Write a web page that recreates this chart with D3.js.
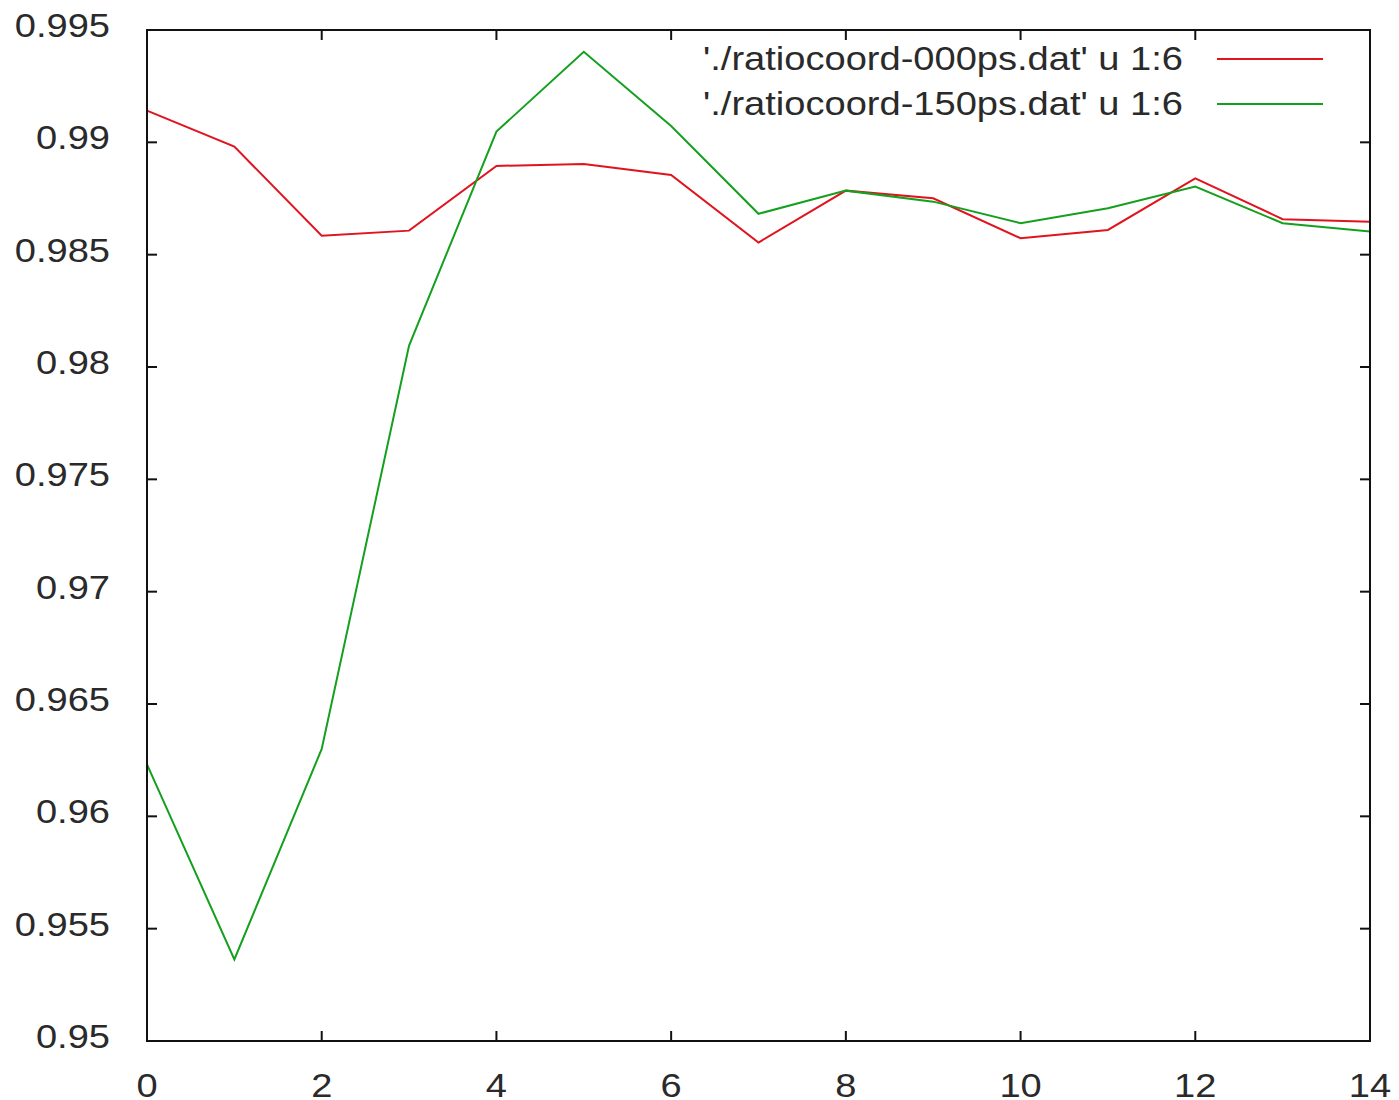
<!DOCTYPE html>
<html>
<head>
<meta charset="utf-8">
<script src="https://cdn.jsdelivr.net/npm/d3@7"></script>
<style>
  body { margin: 0; background: #fff; }
  text { font-family: "Liberation Sans", Arial, sans-serif; fill: #2a2a2a; }
</style>
</head>
<body>
<div id="chart"></div>
<script>
// data (column 1 vs column 6)
var xs = [0, 1, 2, 3, 4, 5, 6, 7, 8, 9, 10, 11, 12, 13, 14];
var ratio000 = [0.99141, 0.98981, 0.98584, 0.98607, 0.98895, 0.98904, 0.98855, 0.98554, 0.98785, 0.98751, 0.98573, 0.98610, 0.98840, 0.98658, 0.98647];
var ratio150 = [0.96231, 0.95363, 0.96300, 0.98095, 0.99048, 0.99403, 0.99073, 0.98682, 0.98785, 0.98736, 0.98640, 0.98707, 0.98803, 0.98640, 0.98603];
var xTicks = [0, 2, 4, 6, 8, 10, 12, 14];
var yTicks = [0.95, 0.955, 0.96, 0.965, 0.97, 0.975, 0.98, 0.985, 0.99, 0.995];
var seriesNames = ["'./ratiocoord-000ps.dat' u 1:6", "'./ratiocoord-150ps.dat' u 1:6"];
var seriesColors = ["#e0141e", "#14a01e"];

(function() {
  var width = 1399, height = 1100;
  var pLeft = 147, pRight = 1370, pTop = 30, pBottom = 1041;
  var stretch = 1.12, fs = "34px";

  var svg = d3.select("#chart").append("svg")
      .attr("width", width)
      .attr("height", height);

  var x = d3.scaleLinear().domain([0, 14]).range([pLeft, pRight]);
  var y = d3.scaleLinear().domain([0.95, 0.995]).range([pBottom, pTop]);

  // text a bit wider than the font, like the original bitmap
  function label(px, py, str, anchor) {
    svg.append("g")
      .attr("transform", "translate(" + px + "," + py + ")scale(" + stretch + ",1)")
    .append("text")
      .attr("text-anchor", anchor)
      .style("font-size", fs)
      .text(str);
  }

  // tick marks on all four sides, pointing inward
  var tickLen = 10;
  var g = svg.append("g").attr("stroke", "#111").attr("stroke-width", 2);
  xTicks.forEach(function(t) {
    g.append("line").attr("x1", x(t)).attr("x2", x(t)).attr("y1", pBottom).attr("y2", pBottom - tickLen);
    g.append("line").attr("x1", x(t)).attr("x2", x(t)).attr("y1", pTop).attr("y2", pTop + tickLen);
  });
  yTicks.forEach(function(t) {
    g.append("line").attr("x1", pLeft).attr("x2", pLeft + tickLen).attr("y1", y(t)).attr("y2", y(t));
    g.append("line").attr("x1", pRight).attr("x2", pRight - tickLen).attr("y1", y(t)).attr("y2", y(t));
  });

  yTicks.forEach(function(d) {
    label(110, y(d) + 7, String(+d.toFixed(3)), "end");
  });
  xTicks.forEach(function(d) {
    label(x(d), 1097, String(d), "middle");
  });

  var line = d3.line()
    .x(function(d, i) { return x(xs[i]); })
    .y(function(d) { return y(d); });

  [ratio000, ratio150].forEach(function(s, i) {
    svg.append("path")
      .attr("d", line(s))
      .attr("fill", "none")
      .attr("stroke", seriesColors[i])
      .attr("stroke-width", 2);
  });

  // legend, top right
  seriesNames.forEach(function(name, i) {
    var ly = 59 + i * 45;
    label(1183, ly + 11, name, "end");
    svg.append("line")
      .attr("x1", 1217).attr("x2", 1323)
      .attr("y1", ly).attr("y2", ly)
      .attr("stroke", seriesColors[i])
      .attr("stroke-width", 2);
  });

  // border
  svg.append("rect")
    .attr("x", pLeft).attr("y", pTop)
    .attr("width", pRight - pLeft).attr("height", pBottom - pTop)
    .attr("fill", "none")
    .attr("stroke", "#111")
    .attr("stroke-width", 2);
})();
</script>
</body>
</html>
